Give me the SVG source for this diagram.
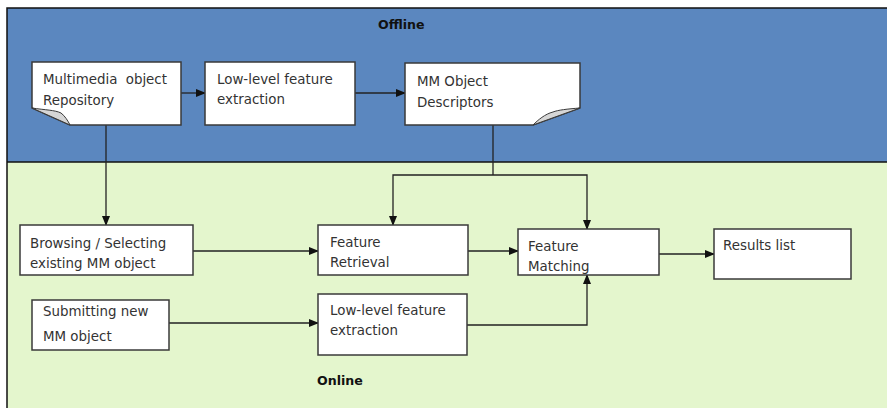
<svg xmlns="http://www.w3.org/2000/svg" width="887" height="408" viewBox="0 0 887 408">
  <defs>
    <marker id="arrow" markerWidth="10" markerHeight="8" refX="9" refY="4" orient="auto" markerUnits="userSpaceOnUse">
      <path d="M0,0 L10,4 L0,8 Z" fill="#111"/>
    </marker>
    <style>
      .box { fill: #ffffff; stroke: #3a3a3a; stroke-width: 1.5; }
      .flap { fill: #d6d6d6; stroke: #3a3a3a; stroke-width: 1; }
      .lbl { font-family: "DejaVu Sans", Verdana, sans-serif; font-size: 13.4px; fill: #333333; }
      .zone { font-family: "DejaVu Sans", Verdana, sans-serif; font-size: 12.6px; font-weight: bold; fill: #111111; }
      .conn { fill: none; stroke: #222222; stroke-width: 1.3; }
    </style>
  </defs>

  <!-- background zones -->
  <rect x="0" y="0" width="887" height="408" fill="#ffffff"/>
  <rect x="7" y="8" width="880" height="154" fill="#5b87bf"/>
  <rect x="7" y="162" width="880" height="246" fill="#e4f6cd"/>
  <path d="M887,8 H7 V408" fill="none" stroke="#111" stroke-width="1.5"/>
  <line x1="7" y1="162" x2="887" y2="162" stroke="#111" stroke-width="1.5"/>
  <text class="zone" x="378" y="29">Offline</text>
  <text class="zone" x="317" y="385">Online</text>

  <!-- connectors -->
  <g id="connectors">
    <line class="conn" x1="181" y1="93" x2="205" y2="93" marker-end="url(#arrow)"/>
    <line class="conn" x1="355" y1="93" x2="405" y2="93" marker-end="url(#arrow)"/>
    <line class="conn" x1="106" y1="125" x2="106" y2="225" marker-end="url(#arrow)"/>
    <polyline class="conn" points="493,125 493,175"/>
    <polyline class="conn" points="493,175 393,175 393,225" marker-end="url(#arrow)"/>
    <polyline class="conn" points="493,175 587,175 587,229" marker-end="url(#arrow)"/>
    <line class="conn" x1="193" y1="251" x2="318" y2="251" marker-end="url(#arrow)"/>
    <line class="conn" x1="169" y1="323" x2="318" y2="323" marker-end="url(#arrow)"/>
    <line class="conn" x1="468" y1="251" x2="518" y2="251" marker-end="url(#arrow)"/>
    <polyline class="conn" points="467,325 587,325 587,275" marker-end="url(#arrow)"/>
    <line class="conn" x1="659" y1="254" x2="714" y2="254" marker-end="url(#arrow)"/>
  </g>

  <!-- offline nodes -->
  <g id="mm-repository">
    <path class="box" d="M32,62 H181 V125 H70 L32,108 Z"/>
    <path class="flap" d="M32,108 C45,110 55,110 61,113 C65,116 68,121 70,125 Z"/>
    <text class="lbl" x="43" y="84" word-spacing="4">Multimedia object</text>
    <text class="lbl" x="43" y="105">Repository</text>
  </g>
  <g id="offline-extraction">
    <rect class="box" x="205" y="62" width="150" height="63"/>
    <text class="lbl" x="217" y="84">Low-level feature</text>
    <text class="lbl" x="217" y="104">extraction</text>
  </g>
  <g id="mm-descriptors">
    <path class="box" d="M405,63 H580 V108 L533,125 H405 Z"/>
    <path class="flap" d="M580,108 C567,109 558,110 553,112 C545,114 538,120 533,125 Z"/>
    <text class="lbl" x="417" y="86">MM Object</text>
    <text class="lbl" x="417" y="107">Descriptors</text>
  </g>

  <!-- online nodes -->
  <g id="browsing">
    <rect class="box" x="20" y="225" width="173" height="50"/>
    <text class="lbl" x="30" y="248">Browsing / Selecting</text>
    <text class="lbl" x="30" y="268">existing MM object</text>
  </g>
  <g id="submitting">
    <rect class="box" x="32" y="300" width="137" height="50"/>
    <text class="lbl" x="43" y="316">Submitting new</text>
    <text class="lbl" x="43" y="341">MM object</text>
  </g>
  <g id="feature-retrieval">
    <rect class="box" x="318" y="225" width="150" height="50"/>
    <text class="lbl" x="330" y="247">Feature</text>
    <text class="lbl" x="330" y="267">Retrieval</text>
  </g>
  <g id="online-extraction">
    <rect class="box" x="318" y="294" width="149" height="61"/>
    <text class="lbl" x="330" y="315">Low-level feature</text>
    <text class="lbl" x="330" y="335">extraction</text>
  </g>
  <g id="feature-matching">
    <rect class="box" x="518" y="229" width="141" height="46"/>
    <text class="lbl" x="528" y="251">Feature</text>
    <text class="lbl" x="528" y="271">Matching</text>
  </g>
  <g id="results-list">
    <rect class="box" x="714" y="229" width="137" height="50"/>
    <text class="lbl" x="723" y="250">Results list</text>
  </g>
</svg>
